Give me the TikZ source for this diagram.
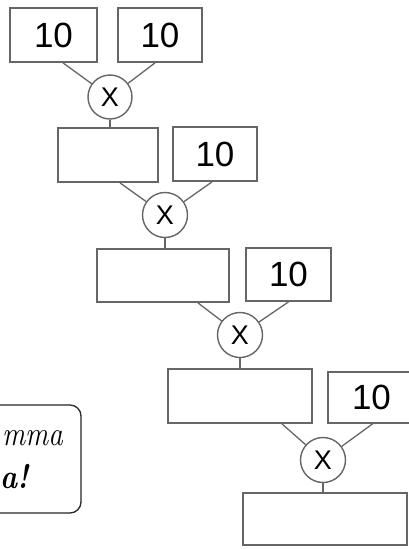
\documentclass[tikz,border=0pt]{standalone}
\usepackage{fontspec}
\newfontfamily\numfont{Liberation Sans}
\tikzset{
  numbox/.style={draw=black!60, line width=1.8pt, fill=white, inner sep=0pt,
    font=\numfont\fontsize{35}{37}\selectfont},
  opcircle/.style={circle, draw=black!60, line width=1.4pt, fill=white, inner sep=0pt,
    minimum size=45pt, font=\numfont\fontsize{27}{29}\selectfont},
  link/.style={draw=black!60, line width=1.3pt},
  bubble/.style={draw=black!85, line width=1.3pt, rounded corners=11pt},
  bubbletext/.style={inner sep=0pt, anchor=base east, font=\fontsize{34}{36}\selectfont}
}
\begin{document}
\begin{tikzpicture}[x=1pt,y=-1pt]
  \useasboundingbox (0,0) rectangle (409,549);
  \fill[white] (0,0) rectangle (409,549);
  \clip (0,0) rectangle (409,549);

  % row 1
  \node[numbox, minimum width=87pt, minimum height=54pt] (r1a) at (53.5,35) {10};
  \node[numbox, minimum width=84pt, minimum height=54pt] (r1b) at (160,35) {10};
  \node[opcircle, minimum size=44pt] (c1) at (110,97) {X};
  % row 2
  \node[numbox, minimum width=100pt, minimum height=54pt] (r2a) at (108,155) {};
  \node[numbox, minimum width=84pt, minimum height=54pt] (r2b) at (215,154) {10};
  \node[opcircle] (c2) at (165,215) {X};
  % row 3
  \node[numbox, minimum width=132pt, minimum height=53pt] (r3a) at (163,275.5) {};
  \node[numbox, minimum width=85pt, minimum height=53pt] (r3b) at (288.5,274.5) {10};
  \node[opcircle] (c3) at (240,335) {X};
  % row 4
  \node[numbox, minimum width=144pt, minimum height=54pt] (r4a) at (240,396) {};
  \node[numbox, minimum width=87pt, minimum height=51pt] (r4b) at (371.5,397.5) {10};
  \node[opcircle] (c4) at (323,460) {X};
  % result
  \node[numbox, minimum width=164pt, minimum height=52pt] (r5) at (325,519) {};

  % factors into each product
  \draw[link] ([xshift=9.5pt]r1a.south) -- (c1);
  \draw[link] ([xshift=-5pt]r1b.south) -- (c1);
  \draw[link] ([xshift=12pt]r2a.south) -- (c2);
  \draw[link] ([xshift=-3pt]r2b.south) -- (c2);
  \draw[link] ([xshift=35pt]r3a.south) -- (c3);
  \draw[link] (r3b.south) -- (c3);
  \draw[link] ([xshift=42pt]r4a.south) -- (c4);
  \draw[link] ([xshift=1pt]r4b.south) -- (c4);

  % products down to the next box
  \draw[link] (c1.south) -- (c1.south |- r2a.north);
  \draw[link] (c2.south) -- (c2.south |- r3a.north);
  \draw[link] (c3.south) -- (c3.south |- r4a.north);
  \draw[link] (c4.south) -- (c4.south |- r5.north);

  % speech bubble at the left margin
  \draw[bubble] (-30,405) -- (81,405) -- (81,513) -- (-30,513);
  \node[bubbletext] (t1) at (63,445) {\scalebox{0.85}[1]{\itshape mma}};
  \node[bubbletext] (t2) at (29,488) {\scalebox{0.85}[1]{\bfseries\itshape a!}};
\end{tikzpicture}
\end{document}
